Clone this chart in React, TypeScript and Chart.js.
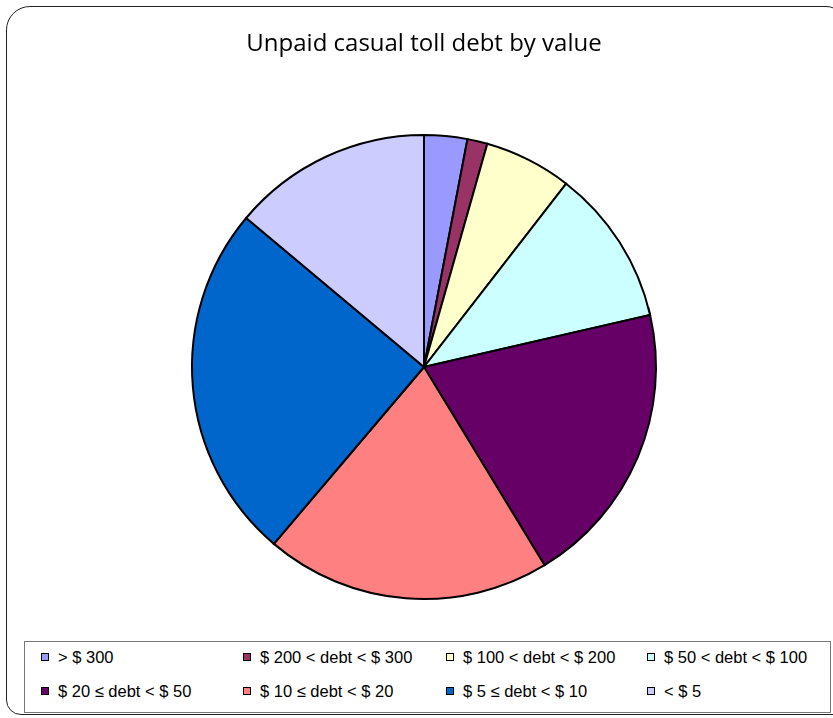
import React, { useEffect, useRef } from "react";
import { Chart, registerables } from "chart.js";

Chart.register(...registerables);

const TITLE = "Unpaid casual toll debt by value";
const CATEGORIES = [
  "> $ 300",
  "$ 200 < debt < $ 300",
  "$ 100 < debt < $ 200",
  "$ 50 < debt < $ 100",
  "$ 20 ≤ debt < $ 50",
  "$ 10 ≤ debt < $ 20",
  "$ 5 ≤ debt < $ 10",
  "< $ 5",
];
const SHARES = [3.0, 1.4, 6.1, 10.9, 19.9, 19.9, 24.9, 13.9];
const COLORS = [
  "#9999FF",
  "#993366",
  "#FFFFCC",
  "#CCFFFF",
  "#660066",
  "#FF8080",
  "#0066CC",
  "#CCCCFF",
];

const LEGEND_COLS = [41, 243, 446, 647];
const LEGEND_ROWS = [657, 691];

export default function App() {
  const ref = useRef<HTMLCanvasElement | null>(null);

  useEffect(() => {
    if (!ref.current) return;
    const chart = new Chart(ref.current, {
      type: "pie",
      data: {
        labels: CATEGORIES,
        datasets: [
          {
            data: SHARES,
            backgroundColor: COLORS,
            borderColor: "#000000",
            borderWidth: 2,
            borderJoinStyle: "miter",
          },
        ],
      },
      options: {
        responsive: false,
        animation: false,
        devicePixelRatio: 1,
        layout: { padding: { left: 194, right: 173, top: 0, bottom: 118 } },
        plugins: {
          legend: { display: false },
          tooltip: { enabled: false },
          title: {
            display: true,
            text: TITLE,
            color: "#000000",
            font: { family: "'Open Sans', sans-serif", size: 24, weight: "500", lineHeight: 1.2 },
            padding: { top: 30, bottom: 75.2 },
          },
        },
      },
    });
    return () => chart.destroy();
  }, []);

  return (
    <div
      style={{
        position: "absolute",
        left: 0,
        top: 0,
        width: 833,
        height: 718,
        overflow: "hidden",
        background: "#ffffff",
      }}
    >
      <div
        style={{
          position: "absolute",
          left: 6,
          top: 6,
          width: 840,
          height: 709,
          border: "1.5px solid #222",
          borderTopLeftRadius: 24,
          borderBottomLeftRadius: 15,
          borderTopRightRadius: 20,
          boxSizing: "border-box",
        }}
      />
      <canvas
        ref={ref}
        width={833}
        height={718}
        style={{ position: "absolute", left: -3, top: 0, width: 833, height: 718 }}
      />
      <div
        style={{
          position: "absolute",
          left: 24,
          top: 641,
          width: 807,
          height: 72,
          border: "1.5px solid #777",
          boxSizing: "border-box",
          background: "#fff",
        }}
      />
      {CATEGORIES.map((c, i) => {
        const x = LEGEND_COLS[i % 4];
        const y = LEGEND_ROWS[Math.floor(i / 4)];
        return (
          <div key={c}>
            <div
              style={{
                position: "absolute",
                left: x,
                top: y - 4,
                width: 8,
                height: 8,
                border: "1.5px solid #000",
                boxSizing: "border-box",
                background: COLORS[i],
              }}
            />
            <div
              style={{
                position: "absolute",
                left: x + 17,
                top: y - 10,
                height: 20,
                lineHeight: "20px",
                fontFamily: "'Liberation Sans', Arial, sans-serif",
                fontSize: 16.5,
                color: "#000",
                whiteSpace: "nowrap",
              }}
            >
              {c}
            </div>
          </div>
        );
      })}
    </div>
  );
}
